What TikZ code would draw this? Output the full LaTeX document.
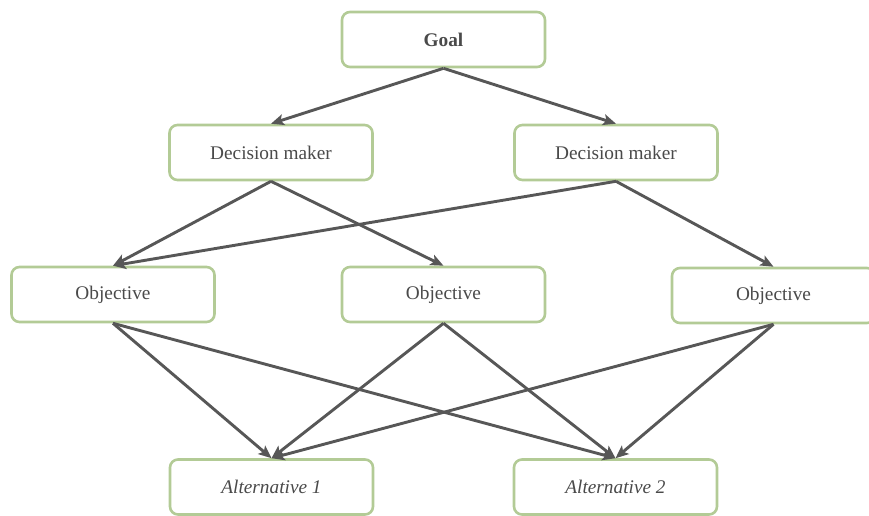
\documentclass[tikz,border=0pt]{standalone}
\usepackage{fontspec}
\setmainfont{Liberation Serif}
\usetikzlibrary{arrows.meta}
\definecolor{boxgreen}{HTML}{B3CB96}
\definecolor{linegray}{HTML}{575757}
\definecolor{textgray}{HTML}{4A4A4A}
\tikzset{
  box/.style={draw=boxgreen, line width=2.6pt, rounded corners=8pt, fill=white,
    minimum width=203pt, minimum height=55pt, inner sep=0pt,
    text=textgray, font=\fontsize{19.3}{22}\selectfont},
  link/.style={draw=linegray, line width=2.9pt,
    -{Stealth[length=13pt,width=11pt,inset=3pt]}},
}
\begin{document}
\begin{tikzpicture}[x=1pt,y=-1pt]
  \useasboundingbox (0,0) rectangle (869,515);
  \clip (0,0) rectangle (869,515);
  % levels of the hierarchy
  \node[box, font=\fontsize{19.3}{22}\selectfont\bfseries] (goal) at (443.5,39.5) {Goal};
  \node[box] (dm1) at (271,152.5) {Decision maker};
  \node[box] (dm2) at (616,152.5) {Decision maker};
  \node[box] (ob1) at (113,294.5) {Objective};
  \node[box] (ob2) at (443.5,294.5) {Objective};
  \node[box] (ob3) at (773.5,295.5) {Objective};
  \node[box] (al1) at (271.5,487) {\itshape Alternative 1};
  \node[box] (al2) at (615.5,487) {\itshape Alternative 2};
  % connectors
  \draw[link] (goal.south) -- (dm1.north);
  \draw[link] (goal.south) -- (dm2.north);
  \draw[link] (dm1.south) -- (ob1.north);
  \draw[link] (dm1.south) -- (ob2.north);
  \draw[link] (dm2.south) -- (ob1.north);
  \draw[link] (dm2.south) -- (ob3.north);
  \draw[link] (ob1.south) -- (al1.north);
  \draw[link] (ob1.south) -- (al2.north);
  \draw[link] (ob2.south) -- (al1.north);
  \draw[link] (ob2.south) -- (al2.north);
  \draw[link] (ob3.south) -- (al1.north);
  \draw[link] (ob3.south) -- (al2.north);
\end{tikzpicture}
\end{document}
